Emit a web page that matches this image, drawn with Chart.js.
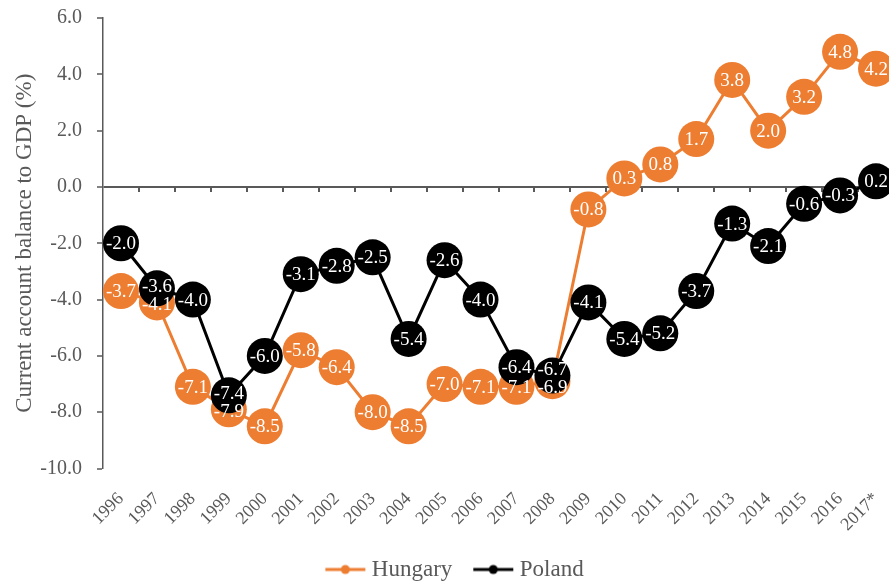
<!DOCTYPE html>
<html>
<head>
<meta charset="utf-8">
<script src="https://cdn.jsdelivr.net/npm/chart.js@4.4.1/dist/chart.umd.min.js"></script>
<style>
  html, body { margin: 0; padding: 0; background: #fff; overflow: hidden; }
  #wrap { width: 936px; height: 591px; position: relative; }
</style>
</head>
<body>
<div id="wrap"><canvas id="chart"></canvas></div>
<script>
const years = ['1996','1997','1998','1999','2000','2001','2002','2003','2004','2005','2006',
               '2007','2008','2009','2010','2011','2012','2013','2014','2015','2016','2017*'];
const hungary = [-3.7,-4.1,-7.1,-7.9,-8.5,-5.8,-6.4,-8.0,-8.5,-7.0,-7.1,
                 -7.1,-6.9,-0.8,0.3,0.8,1.7,3.8,2.0,3.2,4.8,4.2];
const poland  = [-2.0,-3.6,-4.0,-7.4,-6.0,-3.1,-2.8,-2.5,-5.4,-2.6,-4.0,
                 -6.4,-6.7,-4.1,-5.4,-5.2,-3.7,-1.3,-2.1,-0.6,-0.3,0.2];

const ORANGE = '#ED7D31';
const BLACK = '#000000';
const AXIS = '#595959';
const SERIF = '"Liberation Serif", "Times New Roman", serif';

// legend swatch: short line with a dot in the middle
function swatch(color) {
  const c = document.createElement('canvas');
  c.width = 42; c.height = 12;
  const g = c.getContext('2d');
  g.strokeStyle = color; g.lineWidth = 3;
  g.beginPath(); g.moveTo(1, 6); g.lineTo(41, 6); g.stroke();
  g.fillStyle = color;
  g.beginPath(); g.arc(21, 6, 4.5, 0, Math.PI * 2); g.fill();
  return c;
}

// white value text inside every marker, drawn after all markers;
// when the two series' labels at one year nearly collide, spread them apart
const LABEL_GAP = 18;
const valueLabels = {
  id: 'valueLabels',
  afterDatasetsDraw(chart) {
    const ctx = chart.ctx;
    const mh = chart.getDatasetMeta(0).data;
    const mp = chart.getDatasetMeta(1).data;
    ctx.save();
    ctx.font = '19px ' + SERIF;
    ctx.fillStyle = '#fff';
    ctx.textAlign = 'center';
    ctx.textBaseline = 'middle';
    years.forEach((_, i) => {
      let yh = mh[i].y, yp = mp[i].y;
      const d = yh - yp;
      if (Math.abs(d) < LABEL_GAP) {
        const mid = (yh + yp) / 2, s = d >= 0 ? 1 : -1;
        yh = mid + s * LABEL_GAP / 2;
        yp = mid - s * LABEL_GAP / 2;
      }
      ctx.fillText(poland[i].toFixed(1), mp[i].x, yp + 1);
      ctx.fillText(hungary[i].toFixed(1), mh[i].x, yh + 1);
    });
    ctx.restore();
  }
};

// small category-boundary ticks hanging below the zero line
const zeroTicks = {
  id: 'zeroTicks',
  beforeDatasetsDraw(chart) {
    const x = chart.scales.x, y = chart.scales.y;
    const y0 = y.getPixelForValue(0);
    const ctx = chart.ctx;
    ctx.save();
    ctx.strokeStyle = AXIS; ctx.lineWidth = 2;
    const step = x.getPixelForValue(1) - x.getPixelForValue(0);
    for (let i = 1; i <= years.length; i++) {
      const px = Math.round(x.getPixelForValue(0) - step / 2 + i * step);
      ctx.beginPath(); ctx.moveTo(px, y0); ctx.lineTo(px, y0 + 5); ctx.stroke();
    }
    ctx.restore();
  }
};

new Chart(document.getElementById('chart'), {
  type: 'line',
  data: {
    labels: years,
    datasets: [
      {
        label: 'Hungary', data: hungary, order: 1,
        borderColor: ORANGE, backgroundColor: ORANGE, borderWidth: 3,
        pointRadius: 18, pointHoverRadius: 18, pointBackgroundColor: ORANGE,
        pointBorderColor: ORANGE, pointBorderWidth: 0, tension: 0,
        pointStyle: 'circle'
      },
      {
        label: 'Poland', data: poland, order: 0,
        borderColor: BLACK, backgroundColor: BLACK, borderWidth: 3,
        pointRadius: 18, pointHoverRadius: 18, pointBackgroundColor: BLACK,
        pointBorderColor: BLACK, pointBorderWidth: 0, tension: 0,
        pointStyle: 'circle'
      }
    ]
  },
  options: {
    responsive: true,
    maintainAspectRatio: false,
    animation: false,
    clip: false,
    layout: { padding: { top: 18, right: 42, left: 20, bottom: 0 } },
    plugins: {
      tooltip: { enabled: false },
      legend: {
        position: 'bottom',
        labels: {
          font: { family: SERIF, size: 23 },
          color: AXIS,
          usePointStyle: true,
          pointStyleWidth: 30,
          padding: 26,
          generateLabels(chart) {
            return chart.data.datasets.map((ds, i) => ({
              text: ds.label, datasetIndex: i,
              pointStyle: swatch(ds.borderColor),
              fillStyle: ds.borderColor, strokeStyle: ds.borderColor,
              fontColor: AXIS, lineWidth: 0, hidden: false
            }));
          }
        }
      }
    },
    scales: {
      x: {
        offset: true,
        grid: { display: false },
        border: { display: false },
        ticks: {
          minRotation: 45, maxRotation: 45, autoSkip: false,
          font: { family: SERIF, size: 18 }, color: AXIS, padding: 12
        },
        afterFit(scale) { scale.height = 63.5; }
      },
      y: {
        min: -10, max: 6,
        ticks: {
          stepSize: 2,
          callback: v => v.toFixed(1),
          font: { family: SERIF, size: 20 }, color: AXIS, padding: 15
        },
        grid: {
          drawOnChartArea: true,
          color: ctx => (ctx.tick && ctx.tick.value === 0) ? AXIS : 'rgba(0,0,0,0)',
          lineWidth: ctx => (ctx.tick && ctx.tick.value === 0) ? 2 : 0,
          tickColor: AXIS, tickLength: 6, tickWidth: 1.5
        },
        border: { display: true, color: AXIS, width: 1.5 },
        title: {
          display: true,
          text: 'Current account balance to GDP (%)',
          font: { family: SERIF, size: 23 }, color: AXIS,
          padding: { top: -9, bottom: 0 }
        },
        afterFit(scale) {
          scale.width = 83;
          scale.paddingTop = 0;
          scale.paddingBottom = 0;
        }
      }
    }
  },
  plugins: [zeroTicks, valueLabels]
});
</script>
</body>
</html>
